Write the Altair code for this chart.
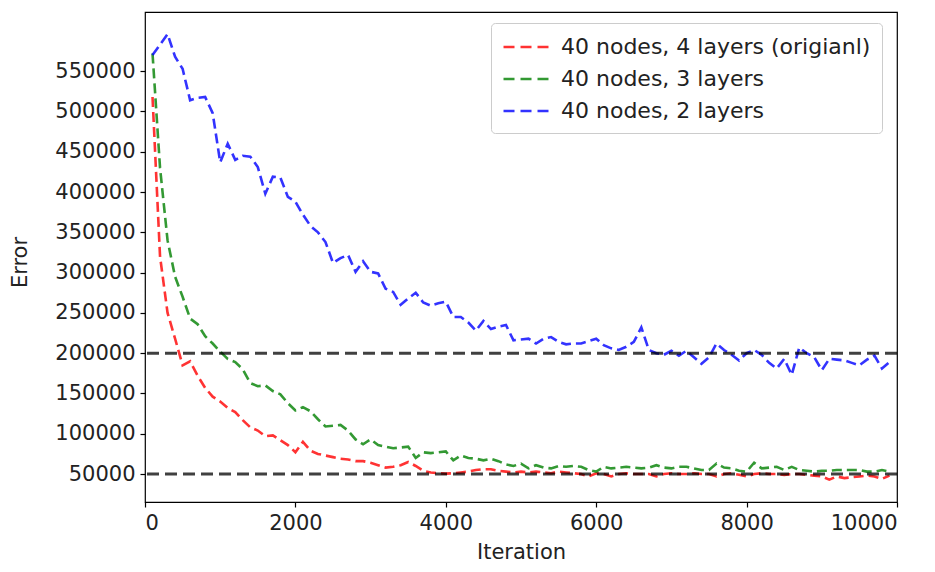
import altair as alt
import pandas as pd

iterations = list(range(100, 10000, 100))

series_names = ["40 nodes, 4 layers (origianl)", "40 nodes, 3 layers", "40 nodes, 2 layers"]
series_colors = ["#ff0000", "#008000", "#0000ff"]

red_4layers = [
    518000, 320000, 250000, 218000, 185000, 190000, 172000, 157000, 146000, 140000,
    132000, 127000, 117000, 108000, 104000, 97000, 98000, 92000, 86000, 77000,
    90000, 79000, 75000, 73000, 71000, 69000, 68000, 66000, 66000, 64000,
    61000, 58000, 59000, 61000, 65000, 60000, 54000, 52000, 51000, 50500,
    51000, 52000, 53000, 55000, 56000, 56000, 54000, 53000, 52000, 53000,
    52000, 53000, 52000, 51000, 53000, 52000, 51000, 50000, 47000, 51000,
    50000, 47000, 50000, 51000, 50000, 50000, 50000, 47000, 50000, 51000,
    50000, 50000, 51000, 50000, 50000, 47000, 50000, 51000, 49000, 47000,
    50000, 51000, 50000, 50000, 49000, 50000, 50000, 49000, 48000, 47000,
    43000, 47000, 45000, 46000, 47000, 48000, 47000, 44000, 48000,
]

green_3layers = [
    572000, 430000, 340000, 295000, 270000, 243000, 236000, 221000, 212000, 202000,
    193000, 189000, 180000, 163000, 159000, 160000, 153000, 149000, 138000, 129000,
    133000, 128000, 118000, 109000, 110000, 111000, 104000, 93000, 87000, 93000,
    86000, 84000, 82000, 83000, 84000, 70000, 77000, 76000, 77000, 78000,
    67000, 73000, 70000, 69000, 67000, 69000, 66000, 62000, 60000, 63000,
    57000, 61000, 58000, 57000, 60000, 59000, 60000, 59000, 55000, 53000,
    59000, 57000, 58000, 59000, 58000, 57000, 58000, 61000, 58000, 57000,
    59000, 59000, 57000, 55000, 55000, 63000, 58000, 57000, 54000, 53000,
    64000, 57000, 58000, 59000, 55000, 59000, 55000, 54000, 53000, 54000,
    54000, 55000, 55000, 55000, 55000, 53000, 53000, 55000, 53000,
]

blue_2layers = [
    570000, 583000, 596000, 568000, 553000, 514000, 517000, 518000, 498000, 437000,
    460000, 440000, 445000, 444000, 431000, 398000, 419000, 418000, 394000, 388000,
    372000, 358000, 350000, 338000, 312000, 318000, 322000, 301000, 314000, 301000,
    299000, 280000, 276000, 260000, 268000, 275000, 263000, 259000, 262000, 264000,
    245000, 245000, 238000, 228000, 240000, 230000, 233000, 235000, 216000, 217000,
    218000, 212000, 218000, 220000, 214000, 211000, 212000, 212000, 215000, 218000,
    210000, 206000, 204000, 208000, 214000, 232000, 204000, 200000, 198000, 203000,
    197000, 203000, 195000, 187000, 195000, 212000, 204000, 198000, 191000, 200000,
    204000, 198000, 188000, 181000, 193000, 173000, 207000, 200000, 195000, 179000,
    193000, 192000, 191000, 188000, 185000, 192000, 197000, 181000, 189000,
]

reference_levels = [50000, 200000]

x_ticks = [0, 2000, 4000, 6000, 8000, 10000]
y_ticks = [50000, 100000, 150000, 200000, 250000, 300000, 350000, 400000, 450000, 500000, 550000]

rows = []
for name, vals in zip(series_names, [red_4layers, green_3layers, blue_2layers]):
    for it, v in zip(iterations, vals):
        rows.append({"Iteration": it, "Error": v, "series": name})
df = pd.DataFrame(rows)
ref_df = pd.DataFrame({"level": reference_levels})

FONT = "DejaVu Sans"
FS = 21

x_enc = alt.X(
    "Iteration:Q",
    scale=alt.Scale(domain=[0, 10000], nice=False, zero=False),
    axis=alt.Axis(values=x_ticks, format="d", title="Iteration", titleX=376, titleY=50,
                  titleBaseline="middle", titleAlign="center"),
)
y_enc = alt.Y(
    "Error:Q",
    scale=alt.Scale(domain=[15300, 623500], nice=False, zero=False),
    axis=alt.Axis(values=y_ticks, format="d", title="Error", titleX=-125, titleY=250,
                  titleBaseline="middle", titleAlign="center", titleAngle=-90),
)

lines = alt.Chart(df).mark_line(
    strokeDash=[10, 5], strokeWidth=2.6, opacity=0.8, clip=True
).encode(
    x=x_enc,
    y=y_enc,
    color=alt.Color(
        "series:N",
        sort=series_names,
        scale=alt.Scale(domain=series_names, range=series_colors),
        legend=alt.Legend(
            title=None,
            orient="none",
            legendX=346,
            legendY=11,
            symbolType="M-2,0L2,0",
            symbolSize=506,
            symbolStrokeWidth=2.6,
            symbolDash=[11, 6],
            symbolOpacity=0.8,
            symbolFillColor="transparent",
            symbolOffset=11,
            labelFont=FONT,
            labelFontSize=22,
            labelColor="#222222",
            labelLimit=500,
            labelOffset=22,
            rowPadding=8,
            padding=11,
            strokeColor="#cccccc",
            fillColor="white",
            cornerRadius=4,
        ),
    ),
    detail="series:N",
)

rules = alt.Chart(ref_df).mark_rule(
    strokeDash=[12, 6], strokeWidth=3, color="black", opacity=0.75
).encode(y=alt.Y("level:Q"))

chart = alt.layer(lines, rules).properties(
    width=752,
    height=490,
    autosize=alt.AutoSizeParams(type="none"),
    padding={"left": 137, "top": 4, "right": 30, "bottom": 62},
    background="white",
).configure_view(
    stroke="black", strokeWidth=1.2
).configure_axis(
    domain=False,
    grid=False,
    ticks=True,
    tickColor="black",
    tickSize=5,
    tickWidth=1.2,
    labelFont=FONT,
    labelFontSize=FS,
    labelColor="#222222",
    labelPadding=5,
    titleFont=FONT,
    titleFontSize=FS,
    titleFontWeight="normal",
    titleColor="#222222",
)

chart.save("out.html", embed_options={"renderer": "svg", "actions": False})
